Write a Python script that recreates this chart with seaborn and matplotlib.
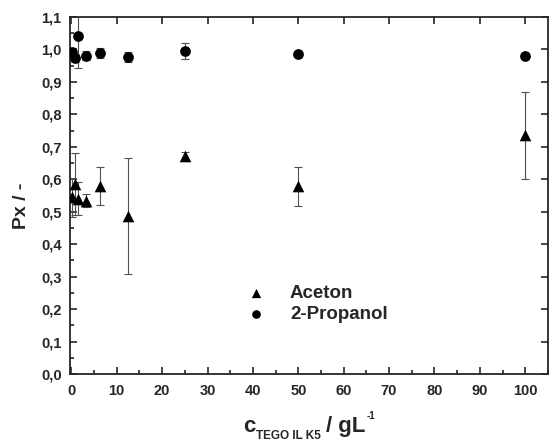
import numpy as np
import pandas as pd
import matplotlib
matplotlib.use('Agg')
import matplotlib.pyplot as plt
from matplotlib.ticker import MultipleLocator, FuncFormatter
import seaborn as sns

# Data
aceton_x = [0.2, 0.78, 1.56, 3.125, 6.25, 12.5, 25, 50, 100]
aceton_y = [0.545, 0.585, 0.54, 0.533, 0.58, 0.487, 0.673, 0.578, 0.735]
aceton_err = [0.06, 0.095, 0.05, 0.02, 0.058, 0.18, 0.01, 0.06, 0.135]

propanol_x = [0.2, 0.78, 1.56, 3.125, 6.25, 12.5, 25, 50, 100]
propanol_y = [0.992, 0.974, 1.04, 0.981, 0.988, 0.977, 0.996, 0.985, 0.979]
propanol_err = [0.012, 0.012, 0.096, 0.015, 0.015, 0.015, 0.025, 0.008, 0.008]

sns.set_style('ticks')
plt.rcParams['font.family'] = ['Liberation Sans', 'DejaVu Sans']
plt.rcParams['font.weight'] = 'bold'

df_a = pd.DataFrame({'x': aceton_x, 'y': aceton_y})
df_p = pd.DataFrame({'x': propanol_x, 'y': propanol_y})

fig = plt.figure(figsize=(5.49, 4.41), dpi=100)
ax = fig.add_axes([0.1275, 0.152, 0.8705, 0.8095])

ax.errorbar(aceton_x, aceton_y, yerr=aceton_err, fmt='none', ecolor='#505050',
            elinewidth=0.8, capsize=3, capthick=0.8, zorder=1)
ax.errorbar(propanol_x, propanol_y, yerr=propanol_err, fmt='none', ecolor='#505050',
            elinewidth=0.8, capsize=3, capthick=0.8, zorder=1)

sns.scatterplot(data=df_a, x='x', y='y', marker='^', color='black', s=70,
                edgecolor='black', linewidth=0, ax=ax, label='Aceton', zorder=3)
sns.scatterplot(data=df_p, x='x', y='y', marker='o', color='black', s=60,
                edgecolor='black', linewidth=0, ax=ax, label='2-Propanol', zorder=3)

ax.set_xlim(-0.3, 105)
ax.set_ylim(0, 1.1)
ax.xaxis.set_major_locator(MultipleLocator(10))
ax.xaxis.set_minor_locator(MultipleLocator(5))
ax.yaxis.set_major_locator(MultipleLocator(0.1))
ax.yaxis.set_minor_locator(MultipleLocator(0.05))
ax.yaxis.set_major_formatter(FuncFormatter(lambda v, p: f'{v:.1f}'.replace('.', ',')))
ax.tick_params(which='both', direction='in', top=True, right=True, labelsize=10.5, width=1.2)
ax.tick_params(which='major', length=5)
ax.tick_params(which='minor', length=3, top=False, right=False)
ax.tick_params(axis='x', pad=7)
ax.tick_params(axis='y', pad=6)
for sp in ax.spines.values():
    sp.set_linewidth(1.3)
    sp.set_visible(True)

ax.set_xlabel('')
ax.set_ylabel('Px / -', fontsize=14, fontweight='bold')
ax.yaxis.set_label_coords(-0.084, 0.47)

ax.legend(loc='upper left', bbox_to_anchor=(0.315, 0.298), frameon=False,
          prop={'size': 13.5, 'weight': 'bold'}, handletextpad=0.8, labelspacing=0.25,
          markerscale=0.8)

# x label built from pieces: c, subscript, "/ gL", superscript
renderer = fig.canvas.get_renderer()
W, H = fig.bbox.width, fig.bbox.height
pieces = [('c', 16, 0, 1), ('TEGO IL K5', 8.5, -7, 5), ('/ gL', 16, 0, 1), ('-1', 7, 13, 0)]
texts = []
for s, fs, dy, gap in pieces:
    t = fig.text(0, 0, s, fontsize=fs, fontweight='bold', va='baseline', ha='left')
    w = t.get_window_extent(renderer).width
    texts.append((t, w, dy, gap))
total = sum(w + gap for t, w, dy, gap in texts)
ax_center = (ax.get_position().x0 + ax.get_position().x1) / 2 * W
x = ax_center - total / 2
base = 9
for t, w, dy, gap in texts:
    t.set_position((x / W, (base + dy) / H))
    x += w + gap

fig.savefig('out.png', dpi=100)
